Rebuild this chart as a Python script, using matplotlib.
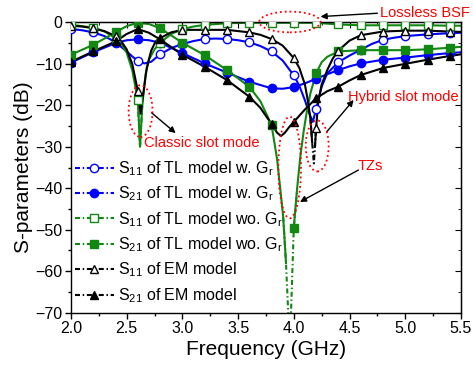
import numpy as np
import matplotlib
matplotlib.use("Agg")
import matplotlib.pyplot as plt
from matplotlib.lines import Line2D
from matplotlib.patches import Ellipse

plt.rcParams['font.family'] = ['Liberation Sans', 'DejaVu Sans']
plt.rcParams['mathtext.fontset'] = 'custom'
plt.rcParams['mathtext.rm'] = 'Liberation Sans'
plt.rcParams['mathtext.it'] = 'Liberation Sans:italic'

# S11 of TL model w. Gr
f_s11_tl_g = [2.0, 2.1, 2.2, 2.3, 2.4, 2.5, 2.55, 2.6, 2.66, 2.72, 2.8, 2.9, 3.0, 3.1, 3.2, 3.3, 3.4,
              3.5, 3.6, 3.7, 3.8, 3.9, 4.0, 4.05, 4.1, 4.14, 4.17, 4.2, 4.25, 4.3, 4.4, 4.5, 4.6,
              4.7, 4.8, 4.9, 5.0, 5.2, 5.4, 5.5]
s11_tl_g = [-1.6, -1.9, -2.4, -3.3, -4.8, -7.0, -8.2, -9.3, -9.9, -9.5, -7.7, -6.2, -5.2, -4.5, -4.0,
            -3.9, -4.0, -4.3, -4.8, -5.7, -7.0, -9.2, -12.8, -15.3, -18.8, -22.0, -24.0, -21.0,
            -15.5, -12.3, -9.6, -8.0, -6.6, -5.2, -4.2, -3.7, -3.3, -2.9, -2.6, -2.5]

# S21 of TL model w. Gr
f_s21_tl_g = [2.0, 2.2, 2.4, 2.5, 2.6, 2.7, 2.8, 3.0, 3.2, 3.4, 3.6, 3.8, 3.9, 4.0, 4.1, 4.2, 4.3,
              4.4, 4.5, 4.6, 4.8, 5.0, 5.2, 5.4, 5.5]
s21_tl_g = [-9.7, -7.2, -5.0, -4.3, -4.1, -4.3, -4.9, -7.4, -9.9, -12.1, -14.3, -15.9, -16.0, -15.6,
            -14.7, -13.6, -12.5, -11.5, -10.6, -9.9, -9.0, -8.5, -7.9, -7.4, -7.2]

# S11 of TL model wo. Gr
f_s11_tl = [2.0, 2.1, 2.2, 2.3, 2.4, 2.45, 2.5, 2.55, 2.6, 2.62, 2.64, 2.67, 2.7, 2.75, 2.8, 2.9,
            3.0, 3.1, 3.2, 3.4, 3.6, 3.8, 4.0, 4.2, 4.3, 4.4, 4.6, 4.8, 5.0, 5.2, 5.4, 5.5]
s11_tl = [-0.6, -0.9, -1.3, -2.2, -3.7, -5.0, -7.3, -11.5, -18.7, -30.0, -20.0, -12.5, -9.0, -6.5,
          -4.9, -2.8, -1.6, -1.0, -0.6, -0.2, -0.1, -0.1, -0.1, -0.1, -0.3, -0.5, -0.7, -0.7, -0.7,
          -0.7, -0.8, -0.8]

# S21 of TL model wo. Gr
f_s21_tl = [2.0, 2.2, 2.4, 2.5, 2.6, 2.7, 2.8, 3.0, 3.2, 3.4, 3.6, 3.7, 3.8, 3.85, 3.88, 3.905, 3.93,
            3.95, 3.963, 3.975, 4.0, 4.03, 4.06, 4.09, 4.12, 4.15, 4.2, 4.25, 4.3, 4.4, 4.6, 4.8,
            5.0, 5.2, 5.4, 5.5]
s21_tl = [-7.8, -5.4, -2.4, -0.9, -0.1, -0.4, -1.4, -4.9, -7.9, -11.5, -15.5, -19.0, -24.7, -33.0,
          -40.5, -47.0, -58.0, -70.0, -90.0, -70.0, -49.5, -40.0, -32.0, -26.0, -21.0, -17.0,
          -12.3, -9.6, -8.3, -7.0, -6.7, -6.7, -6.7, -6.5, -6.1, -5.9]

# S11 of EM model
f_s11_em = [2.0, 2.1, 2.2, 2.3, 2.4, 2.45, 2.5, 2.55, 2.6, 2.625, 2.65, 2.68, 2.72, 2.76, 2.8, 2.9,
            3.0, 3.2, 3.4, 3.6, 3.7, 3.8, 3.9, 4.0, 4.05, 4.1, 4.13, 4.15, 4.165, 4.18, 4.19, 4.2,
            4.22, 4.25, 4.3, 4.35, 4.4, 4.5, 4.6, 4.8, 5.0, 5.2, 5.4, 5.5]
s11_em = [-0.8, -1.0, -1.4, -2.1, -3.3, -4.5, -6.5, -10.0, -16.5, -22.0, -17.0, -11.0, -6.8, -4.6,
          -3.8, -2.4, -1.8, -1.8, -1.8, -2.4, -3.0, -4.0, -5.6, -8.6, -11.0, -15.0, -19.5, -23.5,
          -29.0, -34.0, -30.0, -25.5, -19.0, -15.0, -11.5, -8.7, -6.8, -4.4, -3.1, -2.2, -2.0,
          -2.0, -2.2, -2.3]

# S21 of EM model
f_s21_em = [2.0, 2.2, 2.4, 2.5, 2.6, 2.7, 2.8, 3.0, 3.2, 3.4, 3.6, 3.7, 3.8, 3.85, 3.885, 3.92,
            3.96, 4.0, 4.1, 4.2, 4.3, 4.4, 4.5, 4.6, 4.8, 5.0, 5.2, 5.4, 5.5]
s21_em = [-9.5, -7.0, -4.6, -2.8, -1.6, -2.5, -4.1, -7.8, -10.7, -13.9, -17.9, -20.6, -24.5, -26.6,
          -27.4, -26.6, -25.2, -24.0, -21.0, -18.3, -16.6, -15.5, -14.0, -12.7, -11.0, -10.0,
          -9.0, -8.1, -7.7]

labels = [r'S$_{\mathrm{11}}$ of TL model w. G$_{\mathrm{r}}$',
          r'S$_{\mathrm{21}}$ of TL model w. G$_{\mathrm{r}}$',
          r'S$_{\mathrm{11}}$ of TL model wo. G$_{\mathrm{r}}$',
          r'S$_{\mathrm{21}}$ of TL model wo. G$_{\mathrm{r}}$',
          r'S$_{\mathrm{11}}$ of EM model',
          r'S$_{\mathrm{21}}$ of EM model']

blue = '#0000FF'
green = '#118811'
black = '#000000'
dashdot = (0, (2.4, 1.3, 0.7, 1.3))

# (freq, values, color, marker, filled, dash-dot below this level)
series = [
    (f_s11_tl_g, s11_tl_g, blue, 'o', False, None),
    (f_s21_tl_g, s21_tl_g, blue, 'o', True, None),
    (f_s11_tl, s11_tl, green, 's', False, -20),
    (f_s21_tl, s21_tl, green, 's', True, -47.5),
    (f_s11_em, s11_em, black, '^', False, -26),
    (f_s21_em, s21_em, black, '^', True, None),
]

fig = plt.figure(figsize=(4.73, 3.67), dpi=100)
ax = fig.add_axes([0.150, 0.148, 0.8245, 0.791])

handles = []
for f, s, c, m, filled, thr in series:
    f = np.array(f)
    s = np.array(s)
    if thr is None:
        ax.plot(f, s, color=c, lw=1.5, zorder=2)
    else:
        low = s < thr
        low_ext = low | np.roll(low, 1) | np.roll(low, -1)
        high_ext = (~low) | np.roll(~low, 1) | np.roll(~low, -1)
        ax.plot(f, np.where(high_ext, s, np.nan), color=c, lw=1.5, zorder=2)
        ax.plot(f, np.where(low_ext, s, np.nan), color=c, lw=1.5, ls=dashdot, zorder=2)
    mk = np.isclose(np.round((f - 2.0) / 0.2) * 0.2 + 2.0, f) & (f <= 5.41)
    ax.plot(f[mk], s[mk], ls='none', marker=m, ms=6, mew=1.0, color=c,
            mfc=c if filled else 'white', zorder=3)
    handles.append(Line2D([], [], color=c, lw=1.5, ls=dashdot, marker=m, ms=6, mew=1.0,
                          mfc=c if filled else 'white'))

ax.set_xlim(2.0, 5.5)
ax.set_ylim(-70, 0)
ax.set_xticks(np.arange(2.0, 5.51, 0.5))
ax.set_xticks(np.arange(2.0, 5.51, 0.25), minor=True)
ax.set_yticks(np.arange(-70, 1, 10))
ax.set_yticks(np.arange(-70, 1, 5), minor=True)
ax.tick_params(which='major', direction='out', length=4, width=1, labelsize=11.5, pad=2)
ax.tick_params(which='minor', direction='out', length=2.5, width=1)
for sp in ax.spines.values():
    sp.set_linewidth(1.0)

top = ax.secondary_xaxis('top')
top.set_xticks(np.arange(2.0, 5.51, 0.5))
top.set_xticks(np.arange(2.0, 5.51, 0.25), minor=True)
top.tick_params(which='both', direction='in', labeltop=False)
top.tick_params(which='major', length=4)
top.tick_params(which='minor', length=2.5)
right = ax.secondary_yaxis('right')
right.set_yticks(np.arange(-70, 1, 10))
right.set_yticks(np.arange(-70, 1, 5), minor=True)
right.tick_params(which='both', direction='in', labelright=False)
right.tick_params(which='major', length=4)
right.tick_params(which='minor', length=2.5)

ax.set_xlabel('Frequency (GHz)', fontsize=15, labelpad=3)
ax.set_ylabel('S-parameters (dB)', fontsize=15, labelpad=2)

ax.legend(handles, labels, loc='upper left', bbox_to_anchor=(0.003, 0.54), frameon=False,
          fontsize=11.5, handlelength=2.4, handletextpad=0.3, labelspacing=0.42,
          borderpad=0.2, borderaxespad=0)

# annotations
red = '#FF0000'
ellipses = [((3.965, 0.1), 0.55, 5.0),
            ((2.625, -21.4), 0.215, 12.5),
            ((4.21, -29.8), 0.206, 12.3),
            ((3.963, -35.0), 0.203, 24.5)]
for (cx, cy), w, h in ellipses:
    ax.add_patch(Ellipse((cx, cy), w, h, fill=False, ec=red, ls=':', lw=1.3,
                         clip_on=False, zorder=4))

arrow = dict(arrowstyle='-|>', color='black', lw=1.0, mutation_scale=9, shrinkA=0, shrinkB=0)
ax.annotate('', xy=(4.24, 1.4), xytext=(4.75, 2.2), arrowprops=arrow, annotation_clip=False)
ax.text(4.77, 2.2, 'Lossless BSF', color=red, fontsize=10.5, va='center', ha='left',
        clip_on=False)
ax.annotate('', xy=(2.94, -26.7), xytext=(2.724, -21.8), arrowprops=arrow)
ax.text(2.66, -29.1, 'Classic slot mode', color=red, fontsize=10.5, va='center', ha='left')
ax.annotate('', xy=(4.537, -18.7), xytext=(4.295, -26.4), arrowprops=arrow)
ax.text(4.484, -17.9, 'Hybrid slot mode', color=red, fontsize=10.5, va='center', ha='left')
ax.annotate('', xy=(4.055, -43.3), xytext=(4.58, -35.6), arrowprops=arrow)
ax.text(4.573, -34.6, 'TZs', color=red, fontsize=10.5, va='center', ha='left')

fig.savefig('out.png', dpi=100)
